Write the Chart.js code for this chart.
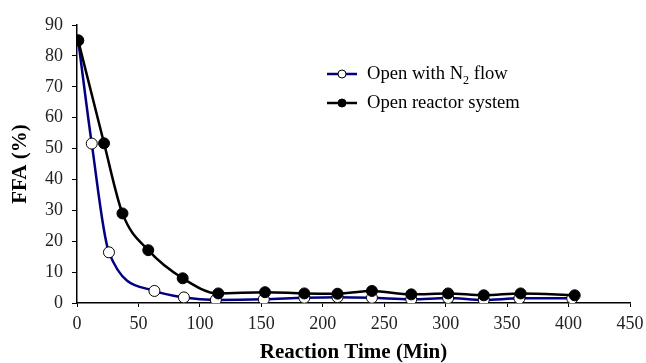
<!DOCTYPE html>
<html>
<head>
<meta charset="utf-8">
<script src="https://cdn.jsdelivr.net/npm/chart.js@4"></script>
<style>
  html, body { margin: 0; padding: 0; background: #fff; }
  #wrap { width: 646px; height: 363px; }
</style>
</head>
<body>
<div id="wrap"><canvas id="ffaChart" width="646" height="363"></canvas></div>
<script>
// reaction time (min) and FFA (%)
const timeN2 = [1, 12, 26, 63, 87, 113, 152, 185, 212, 240, 272, 302, 331, 360, 403];
const ffaN2 = [85, 51.6, 16.4, 3.9, 1.8, 1.0, 1.2, 1.7, 1.9, 1.7, 1.2, 1.6, 1.0, 1.5, 1.5];

const timeOpen = [1, 22, 37, 58, 86, 115, 153, 185, 212, 240, 272, 302, 331, 361, 405];
const ffaOpen = [85, 51.7, 29.0, 17.1, 8.0, 3.1, 3.5, 3.1, 3.0, 3.9, 2.8, 3.1, 2.5, 3.1, 2.5];

const xTicks = [0, 50, 100, 150, 200, 250, 300, 350, 400, 450];
const yTicks = [0, 10, 20, 30, 40, 50, 60, 70, 80, 90];

const serif = "'Liberation Serif', 'Times New Roman', serif";

function toPoints(xs, ys) {
  return xs.map((x, i) => ({ x: x, y: ys[i] }));
}

// legend drawn inside the plot, with the N2 subscript
const legendInside = {
  id: 'legendInside',
  afterDraw(chart) {
    const ctx = chart.ctx;
    const rows = [
      { color: '#000080', fill: '#ffffff', y: 74, text: 'Open with N', sub: '2', rest: ' flow' },
      { color: '#000000', fill: '#000000', y: 103, text: 'Open reactor system' }
    ];
    ctx.save();
    rows.forEach(r => {
      ctx.strokeStyle = r.color;
      ctx.lineWidth = 2.5;
      ctx.beginPath();
      ctx.moveTo(327, r.y);
      ctx.lineTo(357, r.y);
      ctx.stroke();
      ctx.beginPath();
      ctx.arc(342, r.y, 4, 0, Math.PI * 2);
      ctx.fillStyle = r.fill;
      ctx.fill();
      ctx.lineWidth = 1;
      ctx.strokeStyle = '#000';
      ctx.stroke();

      ctx.fillStyle = '#000';
      ctx.textBaseline = 'middle';
      ctx.textAlign = 'left';
      ctx.font = '18.6px ' + serif;
      let x = 367;
      ctx.fillText(r.text, x, r.y);
      if (r.sub) {
        x += ctx.measureText(r.text).width;
        ctx.font = '12px ' + serif;
        ctx.fillText(r.sub, x, r.y + 7);
        x += ctx.measureText(r.sub).width;
        ctx.font = '18.6px ' + serif;
        ctx.fillText(r.rest, x, r.y);
      }
    });
    ctx.restore();
  }
};

new Chart(document.getElementById('ffaChart'), {
  type: 'line',
  data: {
    datasets: [
      {
        label: 'Open with N2 flow',
        data: toPoints(timeN2, ffaN2),
        borderColor: '#000080',
        borderWidth: 2.5,
        pointBackgroundColor: '#ffffff',
        pointBorderColor: '#000000',
        pointBorderWidth: 1,
        pointRadius: 5.5,
        cubicInterpolationMode: 'monotone',
        order: 1
      },
      {
        label: 'Open reactor system',
        data: toPoints(timeOpen, ffaOpen),
        borderColor: '#000000',
        borderWidth: 2.5,
        pointBackgroundColor: '#000000',
        pointBorderColor: '#000000',
        pointBorderWidth: 1,
        pointRadius: 5.5,
        cubicInterpolationMode: 'monotone',
        order: 0
      }
    ]
  },
  options: {
    responsive: false,
    animation: false,
    layout: { padding: { top: 25, right: 4, left: 0, bottom: 0 } },
    plugins: {
      legend: { display: false },
      tooltip: { enabled: false }
    },
    scales: {
      x: {
        type: 'linear',
        min: 0,
        max: 450,
        afterBuildTicks: axis => { axis.ticks = xTicks.map(v => ({ value: v })); },
        afterFit: axis => { axis.height = 60; axis.paddingRight = 16; },
        border: { color: '#000', width: 1.5 },
        grid: { drawOnChartArea: false, drawTicks: true, tickLength: 4, color: '#000' },
        ticks: { color: '#222', font: { family: serif, size: 18 }, padding: 6, maxRotation: 0 },
        title: {
          display: true,
          text: 'Reaction Time (Min)',
          color: '#000',
          font: { family: serif, size: 21, weight: 'bold', lineHeight: 1 },
          padding: { top: 8, bottom: 0 }
        }
      },
      y: {
        min: 0,
        max: 90,
        afterBuildTicks: axis => { axis.ticks = yTicks.map(v => ({ value: v })); },
        afterFit: axis => { axis.width = 77; },
        border: { color: '#000', width: 1.5 },
        grid: { drawOnChartArea: false, drawTicks: true, tickLength: 5, color: '#000' },
        ticks: { color: '#222', font: { family: serif, size: 18 }, padding: 9 },
        title: {
          display: true,
          text: 'FFA (%)',
          color: '#000',
          font: { family: serif, size: 21, weight: 'bold' },
          padding: { top: 8, bottom: 8 }
        }
      }
    }
  },
  plugins: [legendInside]
});
</script>
</body>
</html>
